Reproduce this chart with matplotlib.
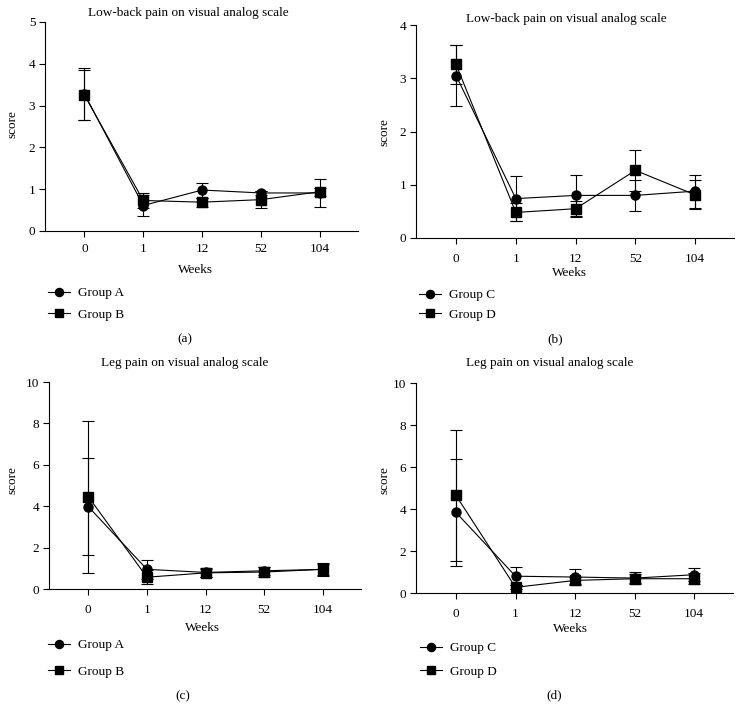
import numpy as np
import matplotlib
matplotlib.use("Agg")
import matplotlib.pyplot as plt

plt.rcParams['font.family'] = ['Liberation Serif', 'DejaVu Serif']
plt.rcParams['font.size'] = 9.5

W, H = 744, 722

# data
weeks = ['0', '1', '12', '52', '104']

# (a) low-back pain, groups A/B
lbp_a_mean = [3.28, 0.61, 0.98, 0.91, 0.91]
lbp_a_err = [0.63, 0.24, 0.18, 0.05, 0.34]
lbp_b_mean = [3.25, 0.73, 0.69, 0.75, 0.94]
lbp_b_err = [0.60, 0.17, 0.11, 0.20, 0.10]

# (b) low-back pain, groups C/D
lbp_c_mean = [3.05, 0.74, 0.80, 0.80, 0.88]
lbp_c_err = [0.58, 0.42, 0.39, 0.29, 0.31]
lbp_d_mean = [3.26, 0.48, 0.55, 1.27, 0.81]
lbp_d_err = [0.37, 0.17, 0.15, 0.39, 0.27]

# (c) leg pain, groups A/B
leg_a_mean = [3.98, 0.95, 0.80, 0.88, 0.95]
leg_a_err = [2.33, 0.45, 0.20, 0.20, 0.30]
leg_b_mean = [4.46, 0.57, 0.78, 0.82, 0.95]
leg_b_err = [3.68, 0.33, 0.20, 0.22, 0.25]

# (d) leg pain, groups C/D
leg_c_mean = [3.84, 0.80, 0.76, 0.71, 0.87]
leg_c_err = [2.54, 0.42, 0.39, 0.30, 0.30]
leg_d_mean = [4.65, 0.27, 0.60, 0.68, 0.68]
leg_d_err = [3.13, 0.10, 0.15, 0.22, 0.25]

fig = plt.figure(figsize=(W / 100, H / 100), dpi=100)


def fx(px):
    return px / W


def fy(py):
    return 1 - py / H


# panel settings: axes box in pixels (left, top, right, bottom) and text spots
panels = [
    dict(box=(45, 22, 358, 231), ymax=5, yticks=[0, 1, 2, 3, 4, 5],
         title="Low-back pain on visual analog scale", title_xy=(188, 13),
         labels=('Group A', 'Group B'),
         s1=(lbp_a_mean, lbp_a_err), s2=(lbp_b_mean, lbp_b_err),
         weeks_xy=(195, 270), score_xy=(13, 124), leg_xy=(48, 287),
         legsp=0.7, tag='(a)', tag_xy=(185, 339), xpad=5),
    dict(box=(416, 25, 734, 238), ymax=4, yticks=[0, 1, 2, 3, 4],
         title="Low-back pain on visual analog scale", title_xy=(566, 19),
         labels=('Group C', 'Group D'),
         s1=(lbp_c_mean, lbp_c_err), s2=(lbp_d_mean, lbp_d_err),
         weeks_xy=(569, 273), score_xy=(385, 132), leg_xy=(419, 289),
         legsp=0.55, tag='(b)', tag_xy=(555, 339), xpad=7),
    dict(box=(49, 382, 361, 589), ymax=10, yticks=[0, 2, 4, 6, 8, 10],
         title="Leg pain on visual analog scale", title_xy=(185, 363),
         labels=('Group A', 'Group B'),
         s1=(leg_a_mean, leg_a_err), s2=(leg_b_mean, leg_b_err),
         weeks_xy=(202, 628), score_xy=(13, 480), leg_xy=(48, 639),
         legsp=1.08, tag='(c)', tag_xy=(183, 696), xpad=7),
    dict(box=(416, 383, 733, 593), ymax=10, yticks=[0, 2, 4, 6, 8, 10],
         title="Leg pain on visual analog scale", title_xy=(550, 363),
         labels=('Group C', 'Group D'),
         s1=(leg_c_mean, leg_c_err), s2=(leg_d_mean, leg_d_err),
         weeks_xy=(570, 629), score_xy=(385, 480), leg_xy=(420, 642),
         legsp=0.85, tag='(d)', tag_xy=(554, 695), xpad=7),
]

x = np.arange(len(weeks))

for p in panels:
    l, t, r, b = p['box']
    ax = fig.add_axes([fx(l), fy(b), fx(r) - fx(l), fy(t) - fy(b)])

    for (mean, err), mk in ((p['s1'], 'o'), (p['s2'], 's')):
        ax.errorbar(x, mean, yerr=err, fmt='none', ecolor='black',
                    elinewidth=0.8, capsize=4.5, capthick=0.8)
    h1, = ax.plot(x, p['s1'][0], '-o', color='black', lw=0.8, ms=6.5)
    h2, = ax.plot(x, p['s2'][0], '-s', color='black', lw=0.8, ms=6.5)

    ax.set_xlim(-0.67, 4.65)
    ax.set_ylim(0, p['ymax'])
    ax.set_yticks(p['yticks'])
    ax.set_xticks(x)
    ax.set_xticklabels(weeks)
    for s in ('top', 'right'):
        ax.spines[s].set_visible(False)
    for s in ('left', 'bottom'):
        ax.spines[s].set_linewidth(0.8)
    ax.tick_params(axis='y', length=4, width=0.8, pad=3)
    ax.tick_params(axis='x', length=4, width=0.8, pad=p['xpad'])

    fig.text(fx(p['title_xy'][0]), fy(p['title_xy'][1]), p['title'],
             ha='center', va='center')
    fig.text(fx(p['weeks_xy'][0]), fy(p['weeks_xy'][1]), 'Weeks',
             ha='center', va='center')
    fig.text(fx(p['score_xy'][0]), fy(p['score_xy'][1]), 'score',
             ha='center', va='center', rotation=90)
    fig.text(fx(p['tag_xy'][0]), fy(p['tag_xy'][1]), p['tag'],
             ha='center', va='center')

    ax.legend([h1, h2], p['labels'], loc='upper left',
              bbox_to_anchor=(fx(p['leg_xy'][0]), fy(p['leg_xy'][1])),
              bbox_transform=fig.transFigure, frameon=False, borderpad=0,
              borderaxespad=0, handlelength=1.7, handletextpad=0.6,
              labelspacing=p['legsp'], markerscale=0.9)

fig.savefig('out.png', dpi=100)
